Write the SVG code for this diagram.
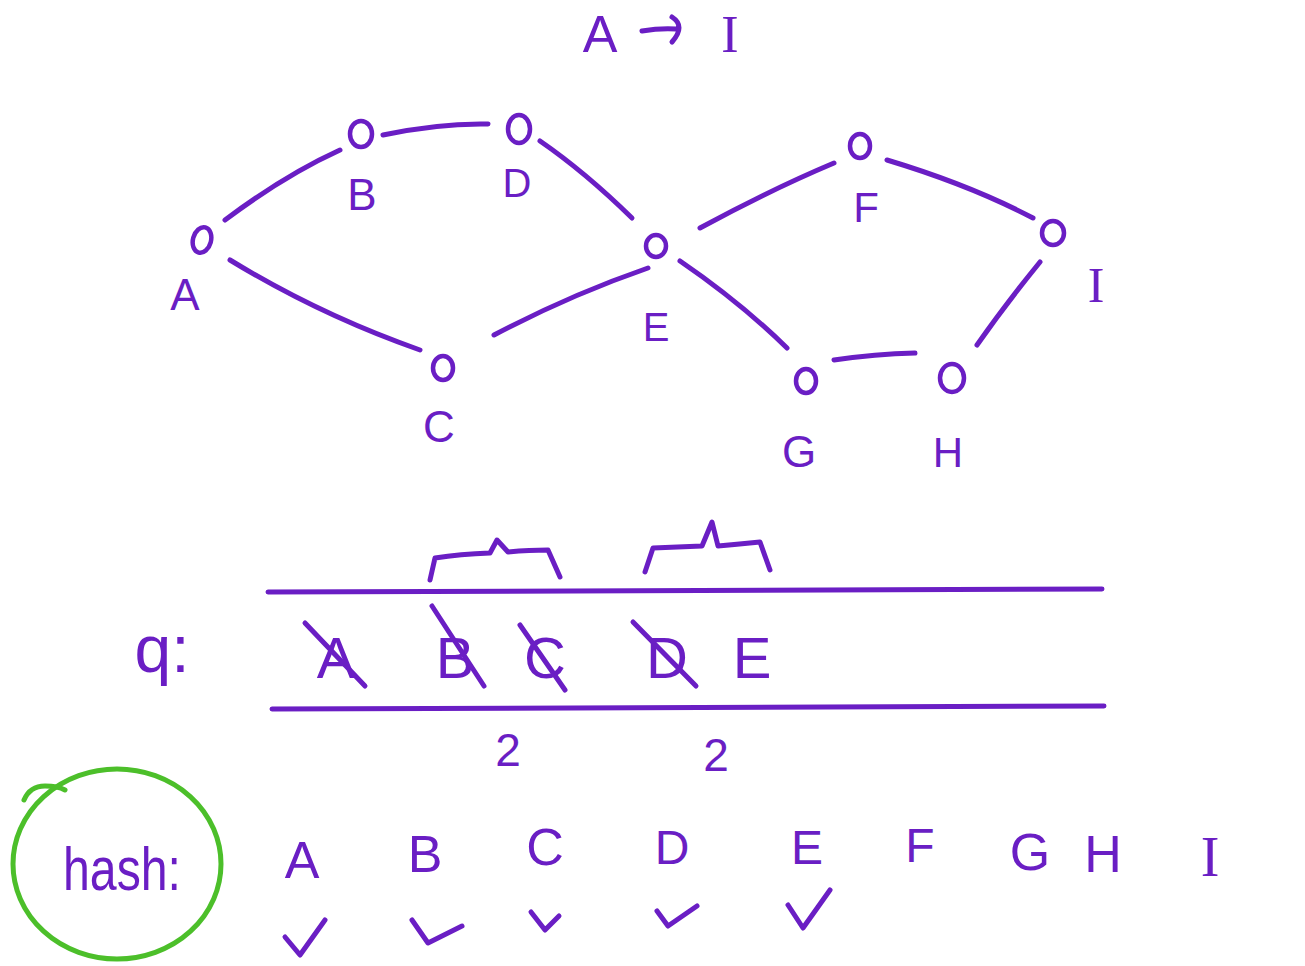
<svg xmlns="http://www.w3.org/2000/svg" width="1305" height="966" viewBox="0 0 1305 966">
<style>
.s{fill:none;stroke:#6a1ec4;stroke-width:5;stroke-linecap:round;stroke-linejoin:round}
.n{fill:none;stroke:#6a1ec4;stroke-width:4.5}
.t{fill:#6a1ec4;font-family:"Liberation Sans","DejaVu Sans",sans-serif;text-anchor:middle}
.g{fill:none;stroke:#4cbf2a;stroke-width:5;stroke-linecap:round}
</style>
<rect width="1305" height="966" fill="#ffffff"/>
<g id="title">
<text class="t" x="600" y="52" font-size="52">A</text>
<path class="s" d="M642,31 Q660,28 676,29 M672,17 Q686,26 672,42"/>
<text class="t" x="730" y="52" font-size="52" style="font-family:'Liberation Serif',serif">I</text>
</g>
<g id="connectors">
<path class="s" d="M225,220 Q285,175 340,150"/>
<path class="s" d="M383,135 Q440,123 488,124"/>
<path class="s" d="M540,141 Q585,172 632,218"/>
<path class="s" d="M230,260 Q320,315 420,350"/>
<path class="s" d="M494,335 Q570,295 648,268"/>
<path class="s" d="M700,228 Q770,190 834,163"/>
<path class="s" d="M680,261 Q740,302 787,348"/>
<path class="s" d="M887,160 Q970,185 1033,218"/>
<path class="s" d="M1040,262 Q1005,305 977,345"/>
<path class="s" d="M834,360 Q875,354 915,353"/>
</g>
<g id="node-A"><ellipse class="n" cx="202" cy="240" rx="9" ry="13" transform="rotate(15 202 240)"/><text class="t" x="185" y="310" font-size="44">A</text></g>
<g id="node-B"><ellipse class="n" cx="361" cy="134" rx="11" ry="13"/><text class="t" x="362" y="210" font-size="44">B</text></g>
<g id="node-D"><ellipse class="n" cx="519" cy="129" rx="11" ry="14"/><text class="t" x="517" y="197" font-size="40">D</text></g>
<g id="node-E"><ellipse class="n" cx="656" cy="246" rx="10" ry="11"/><text class="t" x="656" y="341" font-size="40">E</text></g>
<g id="node-F"><ellipse class="n" cx="860" cy="146" rx="10" ry="12"/><text class="t" x="866" y="222" font-size="42">F</text></g>
<g id="node-I"><ellipse class="n" cx="1053" cy="233" rx="11" ry="12"/><text class="t" x="1096" y="302" font-size="50" style="font-family:'Liberation Serif',serif">I</text></g>
<g id="node-C"><ellipse class="n" cx="443" cy="368" rx="10" ry="12"/><text class="t" x="439" y="442" font-size="44">C</text></g>
<g id="node-G"><ellipse class="n" cx="806" cy="381" rx="10" ry="12"/><text class="t" x="799" y="467" font-size="44">G</text></g>
<g id="node-H"><ellipse class="n" cx="952" cy="378" rx="12" ry="14"/><text class="t" x="948" y="467" font-size="42">H</text></g>
<g id="queue">
<path class="s" d="M268,592 L1102,589"/>
<path class="s" d="M272,709 L1104,706"/>
<path class="s" d="M430,580 L435,558 Q460,554 490,553 L497,540 L508,552 Q530,550 548,550 L560,577"/>
<path class="s" d="M645,572 L653,548 Q680,547 702,546 L712,522 L718,546 Q740,544 760,542 L770,570"/>
<text class="t" x="162" y="672" font-size="66">q:</text>
<text class="t" x="336" y="678" font-size="58">A</text>
<text class="t" x="455" y="678" font-size="58">B</text>
<text class="t" x="545" y="678" font-size="58">C</text>
<text class="t" x="667" y="678" font-size="58">D</text>
<text class="t" x="752" y="678" font-size="58">E</text>
<path class="s" d="M305,623 L365,686"/>
<path class="s" d="M432,606 L484,686"/>
<path class="s" d="M520,625 L565,690"/>
<path class="s" d="M633,622 L696,686"/>
<text class="t" x="508" y="766" font-size="46">2</text>
<text class="t" x="716" y="771" font-size="46">2</text>
</g>
<g id="hash">
<ellipse class="g" cx="117" cy="864" rx="104" ry="95"/>
<path class="g" d="M24,800 Q30,786 45,786 Q58,786 65,790"/>
<text class="t" x="122" y="890" font-size="62" textLength="118" lengthAdjust="spacingAndGlyphs">hash:</text>
<text class="t" x="302" y="878" font-size="52">A</text>
<text class="t" x="425" y="872" font-size="52">B</text>
<text class="t" x="545" y="865" font-size="52">C</text>
<text class="t" x="672" y="864" font-size="48">D</text>
<text class="t" x="807" y="864" font-size="48">E</text>
<text class="t" x="920" y="862" font-size="48">F</text>
<text class="t" x="1030" y="870" font-size="52">G</text>
<text class="t" x="1103" y="872" font-size="52">H</text>
<text class="t" x="1210" y="876" font-size="56" style="font-family:'Liberation Serif',serif">I</text>
<path class="s" d="M285,937 L300,955 L325,920"/>
<path class="s" d="M412,920 L428,943 L462,926"/>
<path class="s" d="M531,912 L545,930 L559,916"/>
<path class="s" d="M657,911 L668,926 L697,906"/>
<path class="s" d="M788,905 L803,928 L830,890"/>
</g>
</svg>
